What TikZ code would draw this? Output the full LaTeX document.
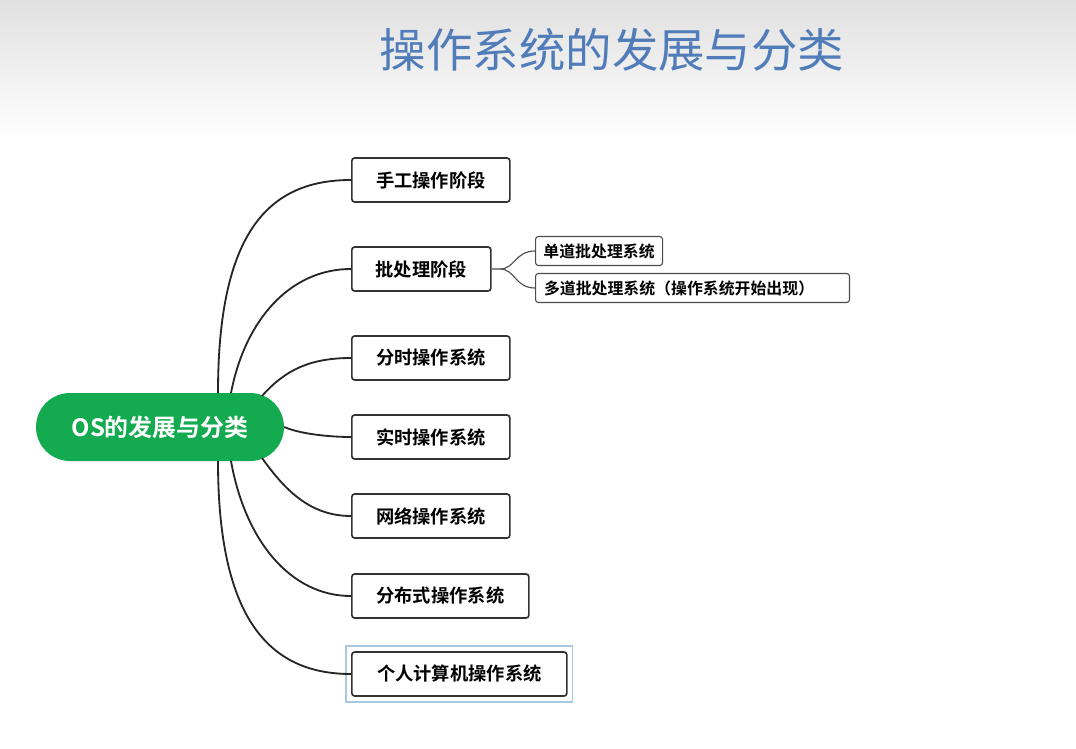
\documentclass[tikz,border=0pt]{standalone}
\usepackage{fontspec}
\newfontfamily\cjk{Noto Sans CJK SC}
\newfontfamily\cjkb{Noto Sans CJK SC Bold}
\definecolor{selblue}{RGB}{170,200,225}
\definecolor{titleblue}{RGB}{80,125,185}
\definecolor{rootgreen}{RGB}{20,170,80}
\begin{document}
\begin{tikzpicture}[x=0.025cm,y=-0.025cm,
  box/.style={draw=black!80,line width=1.2pt,rounded corners=2pt,fill=white,anchor=west,minimum height=44*0.025cm,inner xsep=9pt,font=\cjkb\fontsize{13}{15}\selectfont},
  sub/.style={draw=black!70,line width=0.8pt,rounded corners=2pt,fill=white,anchor=west,minimum height=29*0.025cm,inner xsep=5pt,font=\cjkb\fontsize{11.3}{13}\selectfont},
  con/.style={line width=1.3pt,black!85}]
\useasboundingbox (0,0) rectangle (1076,748);
\fill[white] (0,0) rectangle (1076,748);
\shade[top color=black!12,bottom color=white] (0,0) rectangle (1076,140);
\node[font=\cjk\fontsize{33}{37}\selectfont,text=titleblue] (title) at (612,50) {操作系统的发展与分类};
\node[fill=rootgreen,rounded corners=34*0.025cm,minimum width=248*0.025cm,minimum height=68*0.025cm,text=white,font=\cjkb\fontsize{17}{20}\selectfont] (root) at (160,427) {OS的发展与分类};
\node[box,minimum width=158*0.025cm] (b1) at (351,180) {手工操作阶段};
\node[box,minimum width=139*0.025cm] (b2) at (351,269) {批处理阶段};
\node[box,minimum width=158*0.025cm] (b3) at (351,358) {分时操作系统};
\node[box,minimum width=158*0.025cm] (b4) at (351,437) {实时操作系统};
\node[box,minimum width=158*0.025cm] (b5) at (351,516) {网络操作系统};
\node[box,minimum width=177*0.025cm] (b6) at (351,596) {分布式操作系统};
\node[box,minimum width=215*0.025cm] (b7) at (351,674) {个人计算机操作系统};
\draw[selblue,line width=1pt] ([shift={(-5,-5)}]b7.north west) rectangle ([shift={(5,5)}]b7.south east);
\node[sub,minimum width=127*0.025cm] (s1) at (535,251) {单道批处理系统};
\node[sub,text width=297*0.025cm,inner xsep=6pt,align=left] (s2) at (535,288) {多道批处理系统（操作系统开始出现）};
\coordinate (rt) at (218,393);
\coordinate (rb) at (218,461);
\coordinate (fork) at (500,269);
\draw[con] (rt) .. controls (218,230) and (270,180) .. (b1.west);
\draw[con] (231,393) .. controls (245,320) and (290,269) .. (b2.west);
\draw[con] (262,396) .. controls (285,370) and (310,358) .. (b3.west);
\draw[con] (root.east) .. controls (300,434) and (330,437) .. (b4.west);
\draw[con] (262,458) .. controls (285,490) and (310,516) .. (b5.west);
\draw[con] (231,461) .. controls (245,540) and (290,596) .. (b6.west);
\draw[con] (rb) .. controls (218,620) and (270,674) .. (b7.west);
\draw[black!70,line width=0.8pt] (b2.east) -- (fork) .. controls (515,269) and (515,251) .. (s1.west);
\draw[black!70,line width=0.8pt] (fork) .. controls (515,269) and (515,288) .. (s2.west);
\end{tikzpicture}
\end{document}
